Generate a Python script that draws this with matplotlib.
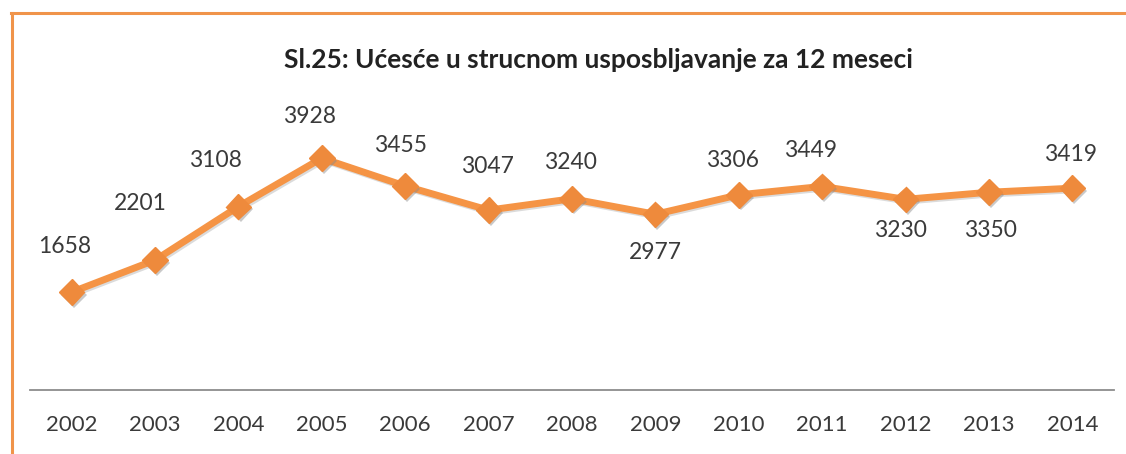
import matplotlib
matplotlib.use("Agg")
import matplotlib.pyplot as plt
import matplotlib.patheffects as pe
from matplotlib.lines import Line2D

years = ["2002", "2003", "2004", "2005", "2006", "2007", "2008",
         "2009", "2010", "2011", "2012", "2013", "2014"]
values = [1658, 2201, 3108, 3928, 3455, 3047, 3240, 2977, 3306, 3449, 3230, 3350, 3419]
title = "Sl.25: Ućesće u strucnom usposbljavanje za 12 meseci"

# label offsets in pixels (dx, dy) relative to each point
label_offsets = [(-7, 46), (-15, 57), (-23, 46), (-12, 42), (-5, 41), (-1, 44), (-2, 36),
                 (0, -38), (-6, 34), (-12, 36), (-5, -31), (2, -38), (-2, 34)]

W, H = 1126, 454
fig = plt.figure(figsize=(W / 100, H / 100), dpi=100)
fig.patch.set_facecolor("white")

# frame (top and left orange border)
fig.add_artist(Line2D([11 / W, 1.0], [1 - 13 / H, 1 - 13 / H], color="#F0944A", lw=2.2,
                      transform=fig.transFigure))
fig.add_artist(Line2D([12 / W, 12 / W], [0, 1 - 13 / H], color="#F0944A", lw=2.2,
                      transform=fig.transFigure))

left, right, bottom_px = 30, 1114, 390
ymax = 4500
top_px = bottom_px - ymax * 0.05903
ax = fig.add_axes([left / W, (H - bottom_px) / H, (right - left) / W, (bottom_px - top_px) / H])
x = list(range(len(years)))
line_color = "#F59445"
ax.plot(x, values, color=line_color, lw=5.0, solid_capstyle="round", zorder=2,
        path_effects=[pe.SimpleLineShadow(offset=(1.2, -1.2), shadow_color="#999999", alpha=0.35),
                      pe.Normal()])
ax.plot(x, values, linestyle="none", marker="D", markersize=13, color="#EE8A3C",
        markeredgecolor="#EE8A3C", zorder=3,
        path_effects=[pe.SimplePatchShadow(offset=(1.5, -2), shadow_rgbFace="#888888", alpha=0.45),
                      pe.Normal()])

ax.set_xlim(-0.5, len(years) - 0.5)
ax.set_ylim(0, ymax)
ax.set_xticks(x)
ax.set_xticklabels(years)
ax.set_yticks([])
for s in ["top", "right", "left"]:
    ax.spines[s].set_visible(False)
ax.spines["bottom"].set_color("#8C8C8C")
ax.spines["bottom"].set_linewidth(1.3)
ax.tick_params(axis="x", length=0, pad=18, labelsize=16, colors="#3A3A3A")
for lab in ax.get_xticklabels():
    lab.set_family(["Lato", "DejaVu Sans"])

for xi, v, (dx, dy) in zip(x, values, label_offsets):
    ax.annotate(str(v), (xi, v), xytext=(dx * 0.72, dy * 0.72), textcoords="offset points",
                ha="center", va="center", fontsize=16.5, color="#3A3A3A",
                family=["Lato", "DejaVu Sans"])

fig.text(598 / W, 1 - 60 / H, title, ha="center", va="center", fontsize=19,
         fontweight="bold", color="#222222", family=["Lato", "DejaVu Sans"])

fig.savefig("out.png", dpi=100)
